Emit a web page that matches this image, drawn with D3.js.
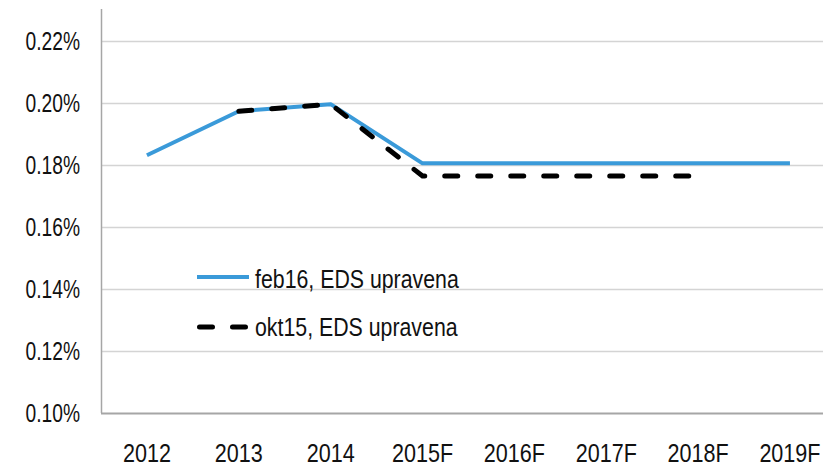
<!DOCTYPE html>
<html>
<head>
<meta charset="utf-8">
<script src="https://cdn.jsdelivr.net/npm/d3@7"></script>
<style>
  body { margin: 0; background: #fff; }
  svg text { font-family: "Liberation Sans", Arial, sans-serif; fill: #111; }
</style>
</head>
<body>
<div id="chart"></div>
<script>
var categories = ["2012", "2013", "2014", "2015F", "2016F", "2017F", "2018F", "2019F"];
var feb16 = [0.1832, 0.1974, 0.1997, 0.1806, 0.1806, 0.1806, 0.1806, 0.1806];
var okt15 = [null, 0.1974, 0.1997, 0.1765, 0.1765, 0.1765, 0.1765, null];
var yTicks = [0.10, 0.12, 0.14, 0.16, 0.18, 0.20, 0.22];
var seriesNames = ["feb16, EDS upravena", "okt15, EDS upravena"];

var W = 823, H = 463;
var plotLeft = 101, plotTop = 10, plotBottom = 413;

var svg = d3.select("#chart")
  .append("svg")
  .attr("width", W)
  .attr("height", H);

var x = d3.scaleBand()
  .domain(categories)
  .range([plotLeft, plotLeft + 8 * 91.86]);

var y = d3.scaleLinear()
  .domain([0.10, 0.23])
  .range([plotBottom, plotTop + 0.3]);

// condensed text: place with translate, squeeze horizontally
function label(g, tx, ty, sx) {
  return g.append("text")
    .attr("transform", "translate(" + tx + "," + ty + ") scale(" + sx + ",1)")
    .attr("font-size", 26);
}

// gridlines
svg.append("g")
  .selectAll("line")
  .data(yTicks.slice(1))
  .enter()
  .append("line")
  .attr("x1", plotLeft)
  .attr("x2", W)
  .attr("y1", function(d) { return Math.round(y(d)) + 0.5; })
  .attr("y2", function(d) { return Math.round(y(d)) + 0.5; })
  .attr("stroke", "#d4d4d4")
  .attr("stroke-width", 1.5);

// axis lines
svg.append("line")
  .attr("x1", plotLeft + 0.5).attr("x2", plotLeft + 0.5)
  .attr("y1", 9).attr("y2", plotBottom)
  .attr("stroke", "#a6a6a6").attr("stroke-width", 1.5);
svg.append("line")
  .attr("x1", plotLeft).attr("x2", W)
  .attr("y1", plotBottom + 0.5).attr("y2", plotBottom + 0.5)
  .attr("stroke", "#a6a6a6").attr("stroke-width", 2);

// y labels
var yg = svg.append("g");
yTicks.forEach(function(d) {
  label(yg, 80, y(d) + 9, 0.74)
    .attr("text-anchor", "end")
    .text(d3.format(".2f")(d) + "%");
});

// x labels
var xg = svg.append("g");
categories.forEach(function(d) {
  label(xg, x(d) + x.bandwidth() / 2, 462, 0.83)
    .attr("text-anchor", "middle")
    .text(d);
});

var line = d3.line()
  .defined(function(d) { return d != null; })
  .x(function(d, i) { return x(categories[i]) + x.bandwidth() / 2; })
  .y(function(d) { return y(d); });

svg.append("path")
  .datum(feb16)
  .attr("fill", "none")
  .attr("stroke", "#3a9ad9")
  .attr("stroke-width", 4)
  .attr("stroke-linejoin", "round")
  .attr("d", line);

svg.append("path")
  .datum(okt15)
  .attr("fill", "none")
  .attr("stroke", "#000")
  .attr("stroke-width", 5)
  .attr("stroke-linecap", "round")
  .attr("stroke-dasharray", "13,20")
  .attr("d", line);

// legend
var legend = svg.append("g");
legend.append("line")
  .attr("x1", 197).attr("x2", 249)
  .attr("y1", 277).attr("y2", 277)
  .attr("stroke", "#3a9ad9").attr("stroke-width", 4);
label(legend, 255, 288, 0.82).text(seriesNames[0]);
legend.append("line")
  .attr("x1", 199.5).attr("x2", 250)
  .attr("y1", 327).attr("y2", 327)
  .attr("stroke", "#000").attr("stroke-width", 5)
  .attr("stroke-linecap", "round")
  .attr("stroke-dasharray", "13,20");
label(legend, 255, 336, 0.82).text(seriesNames[1]);
</script>
</body>
</html>
